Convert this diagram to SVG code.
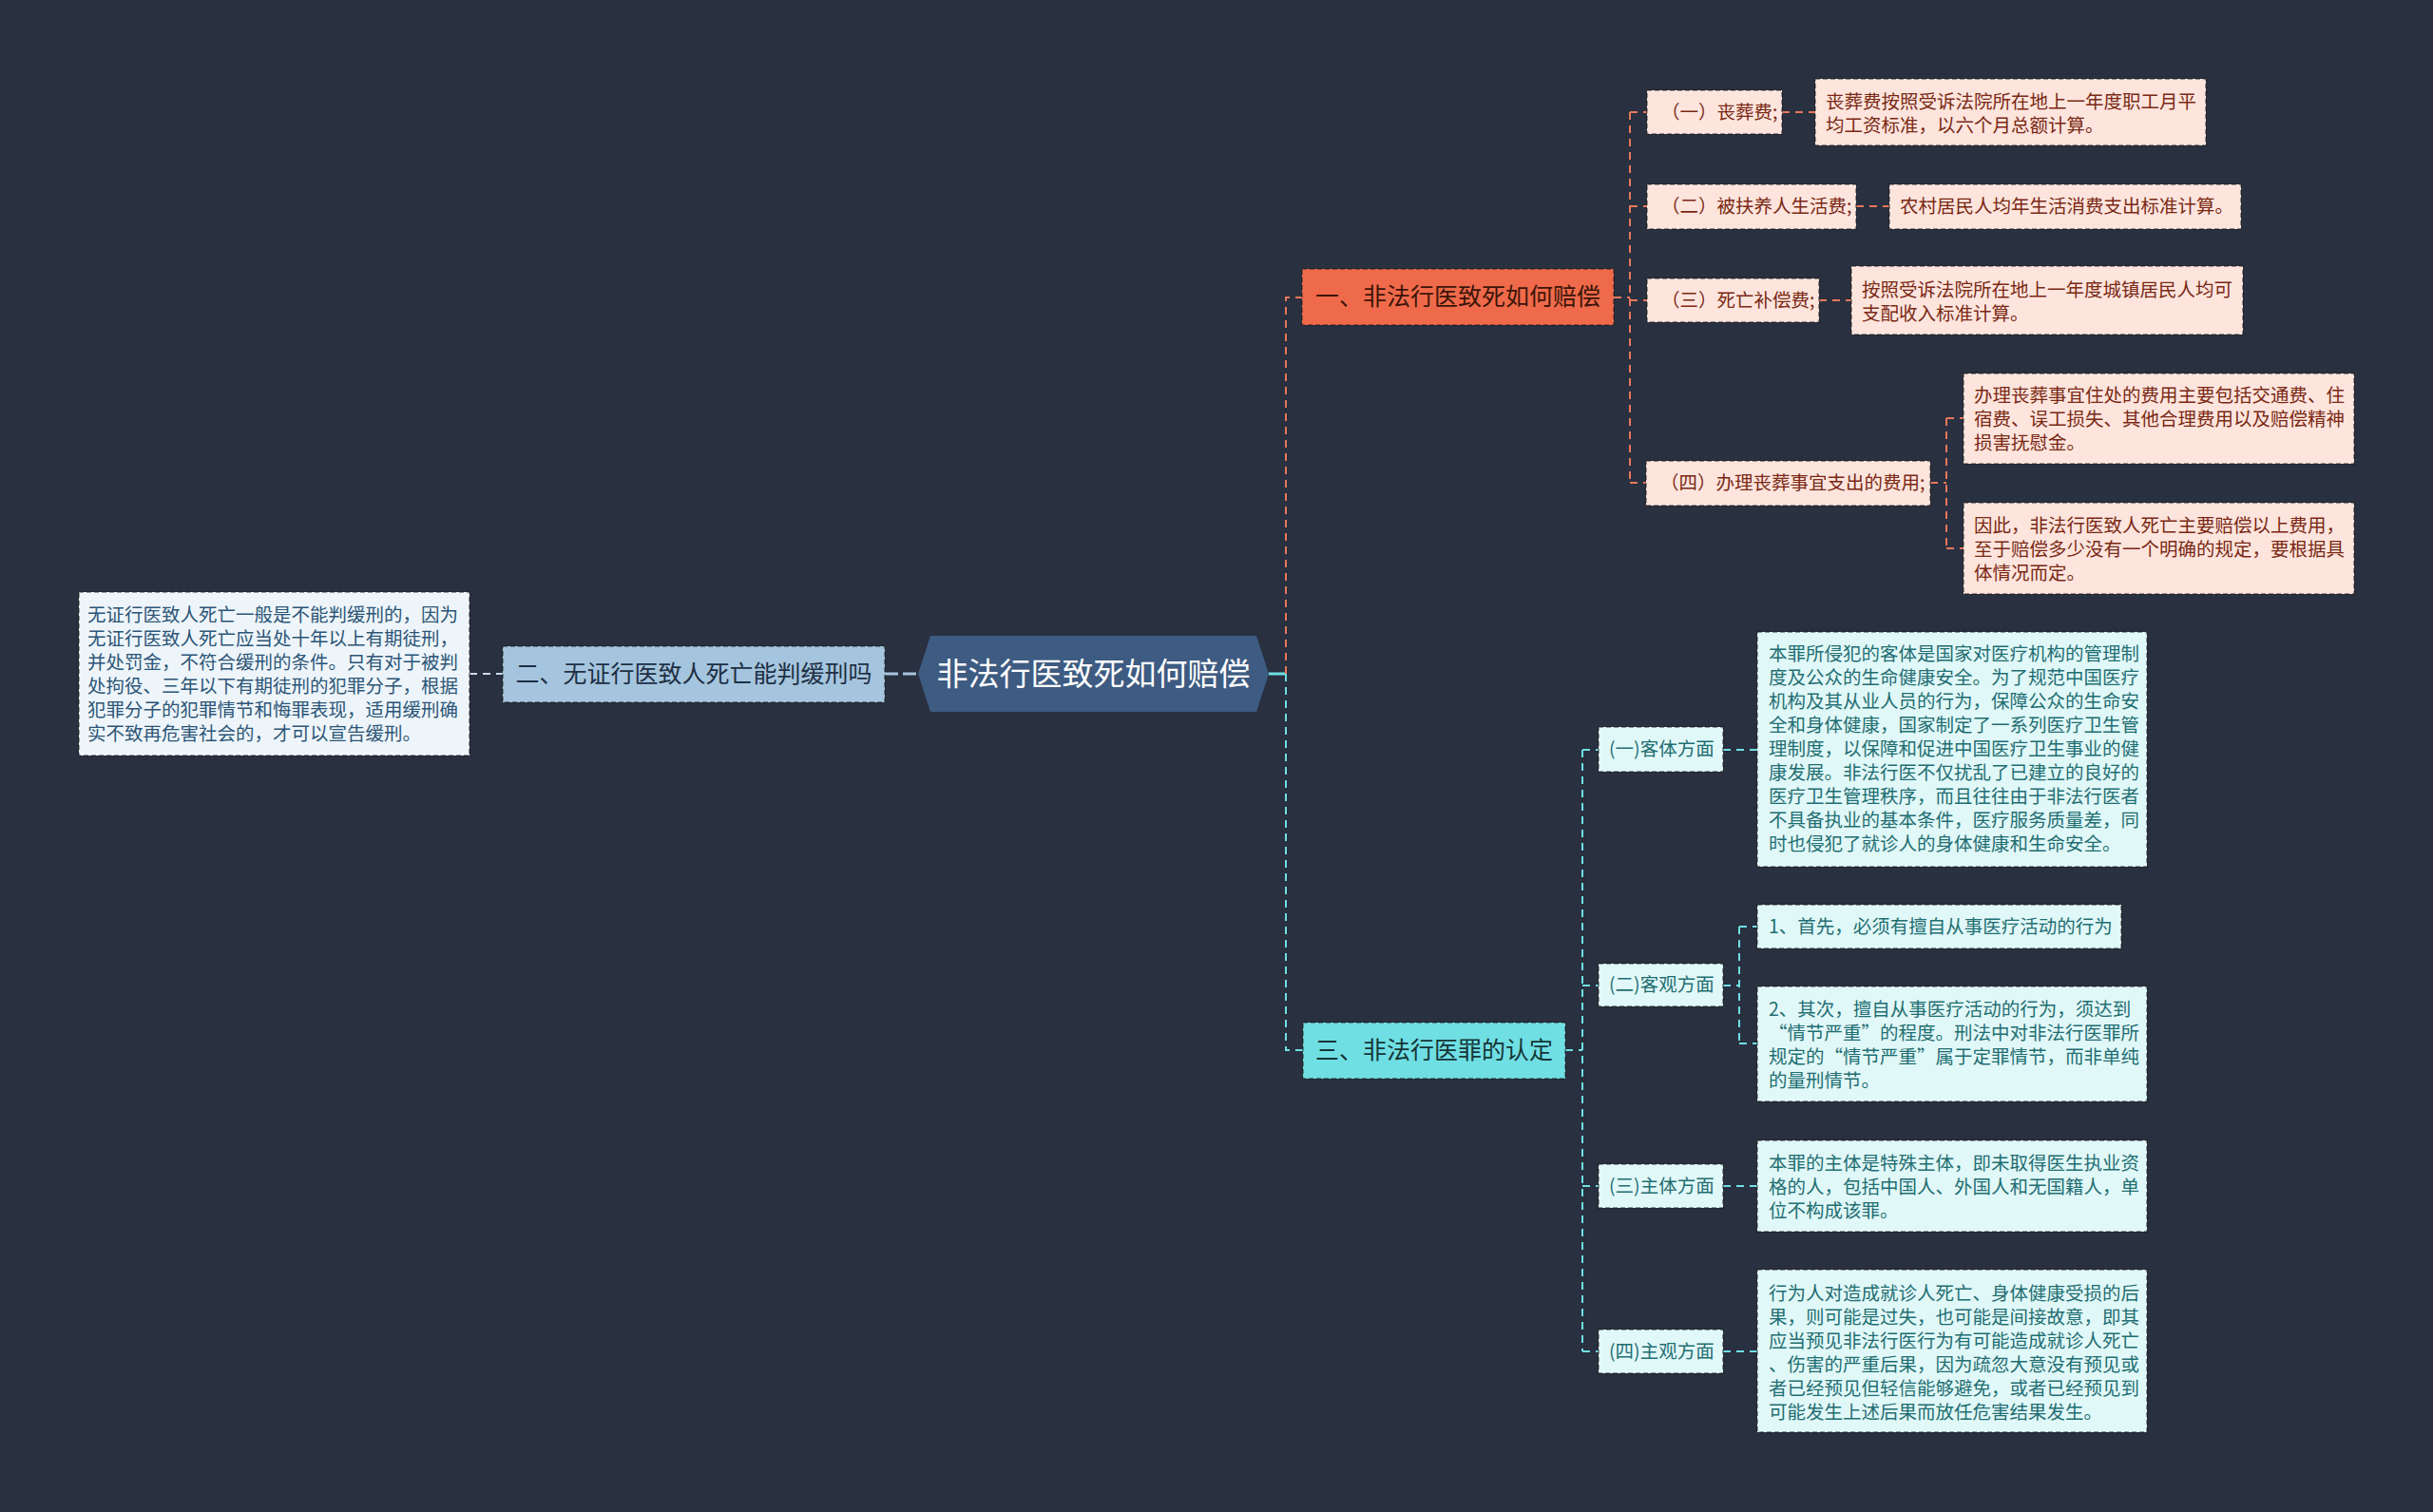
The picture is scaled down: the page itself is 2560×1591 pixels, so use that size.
<svg xmlns="http://www.w3.org/2000/svg" width="2560" height="1591" viewBox="0 0 2560 1591">
<style>
text{font-family:"Noto Sans CJK SC","Noto Sans",sans-serif}
.bx{stroke:rgba(20,20,20,0.55);stroke-width:1.5;stroke-dasharray:5 3}
.pink{fill:#fde5dd}
.pt{fill:#7a2814;font-size:19.5px}
.cy{fill:#e1f8f8}
.ct{fill:#1f6e72;font-size:19.5px}
.lb{fill:#eef5fa}
.lt{fill:#2c5577;font-size:19.5px}
.co{stroke:#e8775c;stroke-width:2;stroke-dasharray:8 6;fill:none}
.cc{stroke:#6fdfe4;stroke-width:2;stroke-dasharray:8 6;fill:none}
.cb{stroke:#c9dbe9;stroke-width:2;stroke-dasharray:8 6;fill:none}
</style>
<rect width="2560" height="1591" fill="#29303f"/>
<g id="connectors">
<line x1="931" y1="709" x2="966" y2="709" stroke="#a5c5de" stroke-width="3" stroke-dasharray="14 5"/>
<line x1="494" y1="709" x2="529" y2="709" class="cb"/>
<line x1="1335" y1="709" x2="1353" y2="709" stroke="#6fdfe4" stroke-width="3"/>
<path class="co" d="M1353 709 V313 H1370"/>
<path class="cc" d="M1353 709 V1105 H1371"/>
<path class="co" d="M1698 313 H1715 M1715 118 V508 M1715 118 H1733 M1715 217 H1733 M1715 316 H1733 M1715 508 H1732"/>
<path class="co" d="M1875 118 H1910 M1953 217 H1988 M1914 316 H1948 M2031 508 H2048 M2048 440 V577 M2048 440 H2066 M2048 577 H2066"/>
<path class="cc" d="M1647 1105 H1665 M1665 789 V1422 M1665 789 H1682 M1665 1037 H1682 M1665 1248 H1682 M1665 1422 H1682"/>
<path class="cc" d="M1813 789 H1849 M1813 1037 H1830 M1830 975 V1098 M1830 975 H1849 M1830 1098 H1849 M1813 1248 H1849 M1813 1422 H1849"/>
</g>
<g id="root">
<polygon points="966,709 979,669 1322,669 1335,709 1322,749 979,749" fill="#3e5b82"/>
<text x="1150.5" y="721" text-anchor="middle" font-size="33" fill="#ffffff">非法行医致死如何赔偿</text>
</g>
<g id="b1">
<rect x="1370" y="283" width="328" height="59" fill="#ef6a4a" class="bx"/>
<text x="1534" y="321" text-anchor="middle" font-size="25" fill="#3d1509">一、非法行医致死如何赔偿</text>
</g>
<g id="b2">
<rect x="529" y="680" width="402" height="59" fill="#a5c5de" class="bx"/>
<text x="730" y="718" text-anchor="middle" font-size="25" fill="#1d2f44">二、无证行医致人死亡能判缓刑吗</text>
</g>
<g id="b3">
<rect x="1371" y="1076" width="276" height="59" fill="#6fdfe4" class="bx"/>
<text x="1509" y="1114" text-anchor="middle" font-size="25" fill="#163536">三、非法行医罪的认定</text>
</g>
<g id="b2d">
<rect x="83" y="623" width="411" height="172" class="lb bx"/>
<text class="lt" x="92"><tspan x="92" y="654">无证行医致人死亡一般是不能判缓刑的，因为</tspan><tspan x="92" y="679">无证行医致人死亡应当处十年以上有期徒刑，</tspan><tspan x="92" y="704">并处罚金，不符合缓刑的条件。只有对于被判</tspan><tspan x="92" y="729">处拘役、三年以下有期徒刑的犯罪分子，根据</tspan><tspan x="92" y="754">犯罪分子的犯罪情节和悔罪表现，适用缓刑确</tspan><tspan x="92" y="779">实不致再危害社会的，才可以宣告缓刑。</tspan></text>
</g>
<g id="b1c1">
<rect x="1733" y="95" width="142" height="46" class="pink bx"/>
<text class="pt" x="1748" y="125">（一）丧葬费;</text>
</g>
<g id="b1c1d">
<rect x="1910" y="83" width="411" height="70" class="pink bx"/>
<text class="pt"><tspan x="1921" y="114">丧葬费按照受诉法院所在地上一年度职工月平</tspan><tspan x="1921" y="139">均工资标准，以六个月总额计算。</tspan></text>
</g>
<g id="b1c2">
<rect x="1733" y="194" width="220" height="47" class="pink bx"/>
<text class="pt" x="1748" y="224">（二）被扶养人生活费;</text>
</g>
<g id="b1c2d">
<rect x="1988" y="194" width="370" height="47" class="pink bx"/>
<text class="pt" x="1999" y="224">农村居民人均年生活消费支出标准计算。</text>
</g>
<g id="b1c3">
<rect x="1733" y="293" width="181" height="46" class="pink bx"/>
<text class="pt" x="1748" y="323">（三）死亡补偿费;</text>
</g>
<g id="b1c3d">
<rect x="1948" y="280" width="412" height="72" class="pink bx"/>
<text class="pt"><tspan x="1959" y="312">按照受诉法院所在地上一年度城镇居民人均可</tspan><tspan x="1959" y="337">支配收入标准计算。</tspan></text>
</g>
<g id="b1c4">
<rect x="1732" y="485" width="299" height="47" class="pink bx"/>
<text class="pt" x="1747" y="515">（四）办理丧葬事宜支出的费用;</text>
</g>
<g id="b1c4d1">
<rect x="2066" y="393" width="411" height="95" class="pink bx"/>
<text class="pt"><tspan x="2077" y="423">办理丧葬事宜住处的费用主要包括交通费、住</tspan><tspan x="2077" y="448">宿费、误工损失、其他合理费用以及赔偿精神</tspan><tspan x="2077" y="473">损害抚慰金。</tspan></text>
</g>
<g id="b1c4d2">
<rect x="2066" y="529" width="411" height="96" class="pink bx"/>
<text class="pt"><tspan x="2077" y="560">因此，非法行医致人死亡主要赔偿以上费用，</tspan><tspan x="2077" y="585">至于赔偿多少没有一个明确的规定，要根据具</tspan><tspan x="2077" y="610">体情况而定。</tspan></text>
</g>
<g id="b3c1">
<rect x="1682" y="765" width="131" height="47" class="cy bx"/>
<text class="ct" x="1693" y="795">(一)客体方面</text>
</g>
<g id="b3c1d">
<rect x="1849" y="665" width="410" height="247" class="cy bx"/>
<text class="ct"><tspan x="1861" y="695">本罪所侵犯的客体是国家对医疗机构的管理制</tspan><tspan x="1861" y="720">度及公众的生命健康安全。为了规范中国医疗</tspan><tspan x="1861" y="745">机构及其从业人员的行为，保障公众的生命安</tspan><tspan x="1861" y="770">全和身体健康，国家制定了一系列医疗卫生管</tspan><tspan x="1861" y="795">理制度，以保障和促进中国医疗卫生事业的健</tspan><tspan x="1861" y="820">康发展。非法行医不仅扰乱了已建立的良好的</tspan><tspan x="1861" y="845">医疗卫生管理秩序，而且往往由于非法行医者</tspan><tspan x="1861" y="870">不具备执业的基本条件，医疗服务质量差，同</tspan><tspan x="1861" y="895">时也侵犯了就诊人的身体健康和生命安全。</tspan></text>
</g>
<g id="b3c2">
<rect x="1682" y="1014" width="131" height="45" class="cy bx"/>
<text class="ct" x="1693" y="1043">(二)客观方面</text>
</g>
<g id="b3c2d1">
<rect x="1849" y="952" width="383" height="46" class="cy bx"/>
<text class="ct" x="1861" y="982">1、首先，必须有擅自从事医疗活动的行为</text>
</g>
<g id="b3c2d2">
<rect x="1849" y="1038" width="410" height="121" class="cy bx"/>
<text class="ct"><tspan x="1861" y="1069">2、其次，擅自从事医疗活动的行为，须达到</tspan><tspan x="1861" y="1094">“情节严重”的程度。刑法中对非法行医罪所</tspan><tspan x="1861" y="1119">规定的“情节严重”属于定罪情节，而非单纯</tspan><tspan x="1861" y="1144">的量刑情节。</tspan></text>
</g>
<g id="b3c3">
<rect x="1682" y="1225" width="131" height="46" class="cy bx"/>
<text class="ct" x="1693" y="1255">(三)主体方面</text>
</g>
<g id="b3c3d">
<rect x="1849" y="1200" width="410" height="96" class="cy bx"/>
<text class="ct"><tspan x="1861" y="1231">本罪的主体是特殊主体，即未取得医生执业资</tspan><tspan x="1861" y="1256">格的人，包括中国人、外国人和无国籍人，单</tspan><tspan x="1861" y="1281">位不构成该罪。</tspan></text>
</g>
<g id="b3c4">
<rect x="1682" y="1399" width="131" height="46" class="cy bx"/>
<text class="ct" x="1693" y="1429">(四)主观方面</text>
</g>
<g id="b3c4d">
<rect x="1849" y="1336" width="410" height="171" class="cy bx"/>
<text class="ct"><tspan x="1861" y="1368">行为人对造成就诊人死亡、身体健康受损的后</tspan><tspan x="1861" y="1393">果，则可能是过失，也可能是间接故意，即其</tspan><tspan x="1861" y="1418">应当预见非法行医行为有可能造成就诊人死亡</tspan><tspan x="1861" y="1443">、伤害的严重后果，因为疏忽大意没有预见或</tspan><tspan x="1861" y="1468">者已经预见但轻信能够避免，或者已经预见到</tspan><tspan x="1861" y="1493">可能发生上述后果而放任危害结果发生。</tspan></text>
</g>
</svg>
